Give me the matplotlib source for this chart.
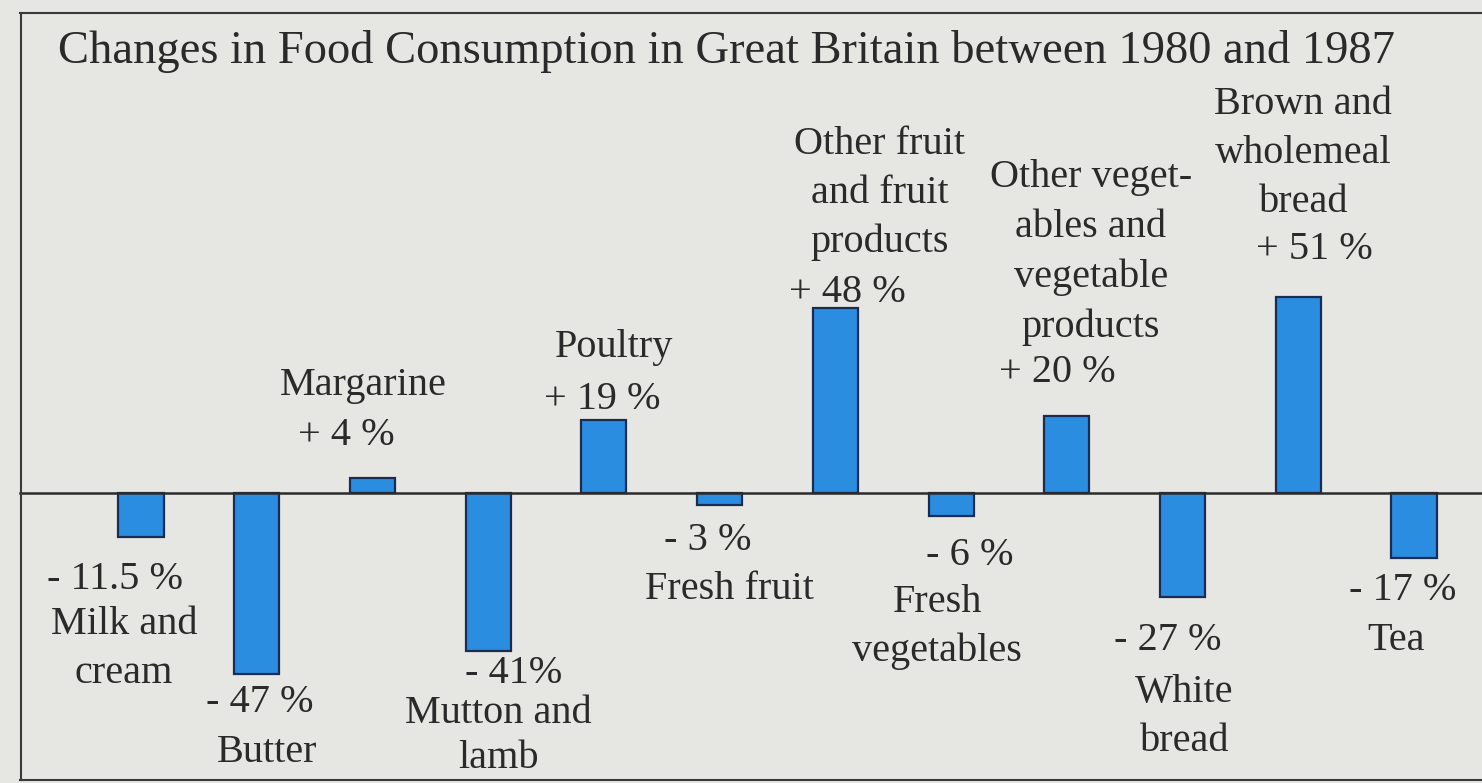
import matplotlib
matplotlib.use("Agg")
import matplotlib.pyplot as plt
from matplotlib.lines import Line2D

# --- data -------------------------------------------------------------
foods = ["Milk and\ncream", "Butter", "Margarine", "Mutton and\nlamb",
         "Poultry", "Fresh fruit", "Other fruit\nand fruit\nproducts",
         "Fresh\nvegetables", "Other veget-\nables and\nvegetable\nproducts",
         "White\nbread", "Brown and\nwholemeal\nbread", "Tea"]
change_pct = [-11.5, -47, 4, -41, 19, -3, 48, -6, 20, -27, 51, -17]
value_labels = ["- 11.5 %", "- 47 %", "+ 4 %", "- 41%", "+ 19 %", "- 3 %",
                "+ 48 %", "- 6 %", "+ 20 %", "- 27 %", "+ 51 %", "- 17 %"]

# --- label layout (pixels) ---------------------------------------------
# gap from bar end to the value line, then from value line to first name line
val_gap = [40, 26, 45, 20, 23, 33, 18, 37, 46, 41, 50, 30]
name_gap = [45, 50, 50, 40, 52, 49, 50, 47, 45, 52, 47, 50]
line_step = [49, 49, 49, 45, 49, 49, 49, 49, 50, 49, 49, 49]
val_dx = [-26, 3, -26, 25, -2, -12, 12, 19, -10, -15, 16, -11]
name_dx = [-17, 10, -9, 10, 10, 10, 44, -14, 24, 2, 5, -18]
BASE_SHIFT = 12     # px from visual centre of a line to its baseline

W, H, DPI = 1482, 783, 100
PX = 72.0 / DPI     # points per pixel
BASELINE_Y = 493    # px from top
PX_PER_UNIT = 3.85
SLOT_PX = 115.73
FIRST_PX = 141

TEXT_COLOR = "#2a2a2a"
FONT = "Liberation Serif"

fig = plt.figure(figsize=(W / DPI, H / DPI), dpi=DPI, facecolor="#e6e7e3")
ax = fig.add_axes([0, 0, 1, 1])
ax.set_facecolor("#ebece9")
ax.set_xlim(-FIRST_PX / SLOT_PX, (W - FIRST_PX) / SLOT_PX)
ax.set_ylim(-(H - BASELINE_Y) / PX_PER_UNIT, BASELINE_Y / PX_PER_UNIT)
ax.axis("off")

x = list(range(len(change_pct)))
ax.bar(x, change_pct, width=0.39, color="#2a8de0", edgecolor="#1c2b52",
       linewidth=1.6, zorder=3)

# zero line
ax.axhline(0, xmin=20 / W, xmax=1.0, color="#2b2b2b", lw=1.8, zorder=4)

# frame around the chart
frame_kw = dict(color="#3a3a3a", lw=1.5, transform=fig.transFigure)
fig.add_artist(Line2D([20 / W, 1.0], [1 - 13 / H, 1 - 13 / H], **frame_kw))
fig.add_artist(Line2D([21 / W, 21 / W], [1 - 13 / H, 1 - 780 / H], **frame_kw))
fig.add_artist(Line2D([20 / W, 1.0], [1 - 780 / H, 1 - 780 / H], **frame_kw))

txt_kw = dict(textcoords="offset points", ha="center", va="baseline",
              fontsize=29, family=FONT, color=TEXT_COLOR, zorder=5)


def put(text, xi, v, dx_px, down_px):
    """Place one text line; down_px is the line's visual centre below the bar end."""
    ax.annotate(text, (xi, v), xytext=(dx_px * PX, -(down_px + BASE_SHIFT) * PX), **txt_kw)


for i, (v, name, vlab) in enumerate(zip(change_pct, foods, value_labels)):
    lines = name.split("\n")
    if v >= 0:
        # value label just above the bar, name lines stacked above it
        c = -val_gap[i]
        put(vlab, i, v, val_dx[i], c)
        for k, ln in enumerate(reversed(lines)):
            put(ln, i, v, name_dx[i], c - name_gap[i] - line_step[i] * k)
    else:
        # value label below the bar, name lines stacked underneath
        c = val_gap[i]
        put(vlab, i, v, val_dx[i], c)
        for k, ln in enumerate(lines):
            put(ln, i, v, name_dx[i], c + name_gap[i] + line_step[i] * k)

fig.text(58 / W, 1 - 63 / H,
         "Changes in Food Consumption in Great Britain between 1980 and 1987",
         ha="left", va="baseline", fontsize=33.5, family=FONT, color=TEXT_COLOR)

fig.savefig("out.png", dpi=DPI, facecolor=fig.get_facecolor())
